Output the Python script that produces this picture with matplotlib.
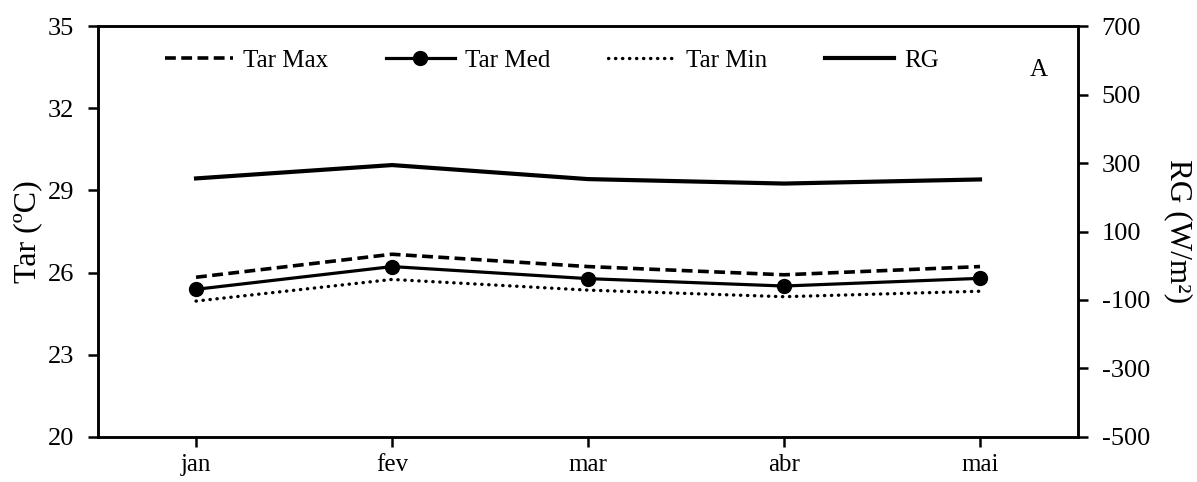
import numpy as np
import matplotlib.pyplot as plt

plt.rcParams['font.family'] = ['Liberation Serif', 'DejaVu Serif']
plt.rcParams['axes.unicode_minus'] = False

meses = ['jan', 'fev', 'mar', 'abr', 'mai']
tar_max = [25.83, 26.67, 26.22, 25.92, 26.22]
tar_med = [25.39, 26.22, 25.78, 25.51, 25.79]
tar_min = [24.96, 25.75, 25.36, 25.12, 25.32]
rg = [255, 294, 253, 240, 252]

x = np.arange(len(meses))

fig = plt.figure(figsize=(11.97, 4.82), dpi=100)
ax = fig.add_axes([0.0819, 0.0934, 0.8187, 0.8526])
ax2 = ax.twinx()

l1, = ax.plot(x, tar_max, color='k', lw=2.6, ls=(0, (3.0, 1.5)))
l2, = ax.plot(x, tar_med, color='k', lw=2.3, marker='o', ms=10)
l3, = ax.plot(x, tar_min, color='k', lw=2.4, ls=(0, (0.1, 2.0)), dash_capstyle='round')
l4, = ax2.plot(x, rg, color='k', lw=3.0)

ax.set_xlim(-0.5, 4.5)
ax.set_ylim(20, 35)
ax.set_yticks([20, 23, 26, 29, 32, 35])
ax2.set_ylim(-500, 700)
ax2.set_yticks([-500, -300, -100, 100, 300, 500, 700])
ax.set_xticks(x)
ax.set_xticklabels(meses)

for a in (ax, ax2):
    for s in a.spines.values():
        s.set_linewidth(1.8)
    a.tick_params(direction='out', length=7, width=1.8, labelsize=19, pad=10)
ax.tick_params(axis='x', labelsize=18, pad=5)

ax.set_ylabel('Tar (ºC)', fontsize=23, labelpad=4)
ax2.set_ylabel('RG (W/m²)', fontsize=22.5, rotation=270, va='bottom', labelpad=10)

ax.text(0.969, 0.893, 'A', transform=ax.transAxes, fontsize=18, ha='right', va='center')

ax.legend([l1, l2, l3, l4], ['Tar Max', 'Tar Med', 'Tar Min', 'RG'],
          loc='center left', bbox_to_anchor=(0.068, 0.915), ncol=4, frameon=False,
          borderpad=0, borderaxespad=0,
          fontsize=18, handlelength=2.75, handletextpad=0.4, columnspacing=2.3)

fig.savefig('out.png', dpi=100)
